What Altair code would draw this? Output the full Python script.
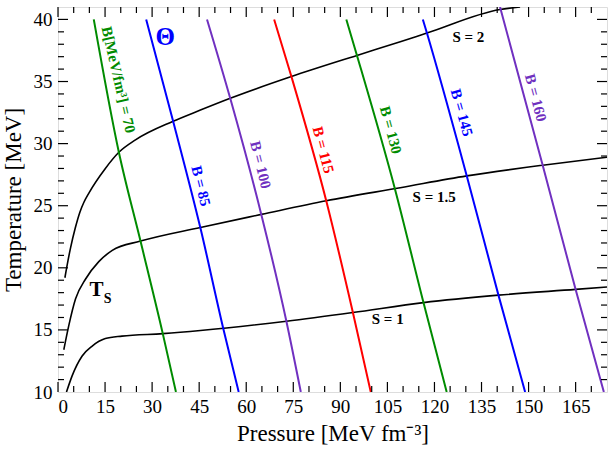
import altair as alt
import pandas as pd

# ---- isentropes (black curves) ----
s2_x = [2.2, 3.2, 4.0, 5.5, 7.0, 8.3, 9.8, 15.1, 19.4, 24.7, 36.7, 45.4, 54.9, 74.4, 95.3, 109.1, 117.6, 140.9, 147.3]
s2_y = [19.2, 20.6, 21.6, 23.2, 24.5, 25.3, 26.0, 28.0, 29.3, 30.3, 31.8, 32.7, 33.65, 35.4, 37.1, 38.2, 38.9, 40.8, 41.0]
s15_x = [1.85, 3.4, 5.6, 8.8, 13.0, 17.3, 26.3, 45.4, 64.8, 85.5, 109.1, 130.3, 154.5, 175.0]
s15_y = [13.4, 15.3, 17.5, 19.1, 20.5, 21.4, 22.15, 23.25, 24.3, 25.4, 26.45, 27.4, 28.26, 28.9]
s1_x = [2.7, 4.5, 7.7, 10.9, 15.1, 20.4, 33.4, 45.4, 72.8, 94.0, 116.5, 140.4, 165.0, 175.0]
s1_y = [10.0, 11.3, 12.9, 13.7, 14.3, 14.5, 14.7, 14.95, 15.7, 16.4, 17.2, 17.8, 18.26, 18.45]

# ---- constant-B lines ----
b70_x = [11.4, 19.4, 26.3, 33.4, 37.6]
b70_y = [40.0, 29.3, 22.15, 14.7, 10.0]
b85_x = [28.1, 36.7, 45.4, 52.6, 57.6]
b85_y = [40.0, 31.8, 23.2, 15.2, 10.0]
b100_x = [47.5, 54.9, 64.8, 72.8, 77.4]
b100_y = [40.0, 33.65, 24.3, 15.7, 10.0]
b115_x = [68.9, 74.4, 85.5, 94.0, 99.7]
b115_y = [40.0, 35.4, 25.4, 16.4, 10.0]
b130_x = [91.9, 95.3, 107.3, 116.5, 123.9]
b130_y = [40.0, 37.1, 26.45, 17.2, 10.0]
b145_x = [116.3, 117.6, 130.3, 140.4, 148.9]
b145_y = [40.0, 38.9, 27.4, 17.8, 10.0]
b160_x = [140.9, 154.5, 165.0, 174.0]
b160_y = [41.0, 28.26, 18.26, 10.0]

b_names = ["70", "85", "100", "115", "130", "145", "160"]
b_colors = ["#008b00", "#0000ff", "#7030c0", "#ff0000", "#008b00", "#0000ff", "#7030c0"]

# ---- annotation texts ----
lab_text = ["B[MeV/fm³] = 70", "B = 85", "B = 100", "B = 115", "B = 130", "B = 145", "B = 160"]
lab_x = [19.3, 45.6, 64.6, 84.6, 106.1, 128.7, 152.3]
lab_y = [35.15, 26.6, 28.3, 29.5, 31.1, 32.5, 33.7]
lab_angle = [77, 76, 76, 75.5, 75, 74.5, 75]

s_text = ["S = 2", "S = 1.5", "S = 1"]
s_lx = [130.8, 119.9, 105.1]
s_ly = [38.6, 25.7, 15.9]

x_major = [0, 15, 30, 45, 60, 75, 90, 105, 120, 135, 150, 165]
x_minor = [v for v in range(5, 175, 5) if v % 15 != 0]
y_major = [15, 20, 25, 30, 35, 40]
y_minor = [v for v in range(11, 41) if v % 5 != 0]

W, H = 549, 385
XDOM, YDOM = [0, 175], [10, 41]
FONT = "Liberation Serif"

xs = alt.Scale(domain=XDOM, nice=False, zero=False)
ys = alt.Scale(domain=YDOM, nice=False, zero=False)

rows = []
for name, xx, yy in [("2", s2_x, s2_y), ("1.5", s15_x, s15_y), ("1", s1_x, s1_y)]:
    for i, (a, b) in enumerate(zip(xx, yy)):
        rows.append({"s": name, "x": a, "y": b, "o": i})
s_df = pd.DataFrame(rows)

rows = []
for name, xx, yy in zip(b_names, [b70_x, b85_x, b100_x, b115_x, b130_x, b145_x, b160_x],
                        [b70_y, b85_y, b100_y, b115_y, b130_y, b145_y, b160_y]):
    for i, (a, b) in enumerate(zip(xx, yy)):
        rows.append({"B": name, "x": a, "y": b, "o": i})
b_df = pd.DataFrame(rows)

xaxis = alt.Axis(values=x_major, ticks=False, domain=False, grid=False, labelFont=FONT,
                 labelFontSize=19, labelColor="black", labelPadding=5,
                 title="Pressure [MeV fm⁻³]", titleFont=FONT, titleFontSize=23,
                 titleFontWeight="normal", titleColor="black", titlePadding=6)
yaxis = alt.Axis(values=[10] + y_major, ticks=False, domain=False, grid=False, labelFont=FONT,
                 labelFontSize=19, labelColor="black", labelPadding=6,
                 title="Temperature [MeV]", titleFont=FONT, titleFontSize=23,
                 titleFontWeight="normal", titleColor="black", titlePadding=8)

s_lines = alt.Chart(s_df).mark_line(color="black", strokeWidth=1.6, interpolate="monotone", clip=True).encode(
    x=alt.X("x:Q", scale=xs, axis=xaxis),
    y=alt.Y("y:Q", scale=ys, axis=yaxis),
    detail="s:N",
    order="o:Q",
)

b_lines = alt.Chart(b_df).mark_line(strokeWidth=2, interpolate="monotone", clip=True).encode(
    x=alt.X("x:Q", scale=xs),
    y=alt.Y("y:Q", scale=ys),
    color=alt.Color("B:N", scale=alt.Scale(domain=b_names, range=b_colors), legend=None),
    detail="B:N",
    order="o:Q",
)

lab_df = pd.DataFrame({"t": lab_text, "x": lab_x, "y": lab_y, "a": lab_angle, "c": b_colors})
b_labels = alt.Chart(lab_df).mark_text(font=FONT, fontSize=15, fontWeight="bold",
                                       align="center", baseline="middle").encode(
    x=alt.X("x:Q", scale=xs), y=alt.Y("y:Q", scale=ys),
    text="t:N", angle=alt.Angle("a:Q", scale=None), color=alt.Color("c:N", scale=None),
)

s_lab_df = pd.DataFrame({"t": s_text, "x": s_lx, "y": s_ly})
s_labels = alt.Chart(s_lab_df).mark_text(font=FONT, fontSize=15, fontWeight="bold", color="black",
                                         align="center", baseline="middle").encode(
    x=alt.X("x:Q", scale=xs), y=alt.Y("y:Q", scale=ys), text="t:N")

misc_df = pd.DataFrame({"t": ["Θ", "T", "S"], "x": [34.2, 12.3, 15.8], "y": [38.6, 18.2, 17.45],
                        "c": ["#0000ff", "black", "black"], "f": [25, 21, 14]})
misc = alt.Chart(misc_df).mark_text(font=FONT, fontWeight="bold", align="center", baseline="middle").encode(
    x=alt.X("x:Q", scale=xs), y=alt.Y("y:Q", scale=ys), text="t:N",
    color=alt.Color("c:N", scale=None), size=alt.Size("f:Q", scale=None),
)


def xticks(vals, length):
    d = pd.DataFrame({"v": vals})
    bot = alt.Chart(d).mark_rule(color="black", strokeWidth=1.2).encode(
        x=alt.X("v:Q", scale=xs), y=alt.value(H), y2=alt.value(H - length))
    top = alt.Chart(d).mark_rule(color="black", strokeWidth=1.2).encode(
        x=alt.X("v:Q", scale=xs), y=alt.value(0), y2=alt.value(length))
    return [bot, top]


def yticks(vals, length):
    d = pd.DataFrame({"v": vals})
    left = alt.Chart(d).mark_rule(color="black", strokeWidth=1.2).encode(
        y=alt.Y("v:Q", scale=ys), x=alt.value(0), x2=alt.value(length))
    right = alt.Chart(d).mark_rule(color="black", strokeWidth=1.2).encode(
        y=alt.Y("v:Q", scale=ys), x=alt.value(W), x2=alt.value(W - length))
    return [left, right]


ticks = xticks(x_major, 10) + xticks(x_minor, 6) + yticks(y_major, 10) + yticks(y_minor, 6)

chart = alt.layer(s_lines, b_lines, b_labels, s_labels, misc, *ticks).properties(
    width=W, height=H,
    autosize=alt.AutoSizeParams(type="none"),
    padding={"left": 58, "top": 7, "right": 1, "bottom": 58},
).configure_view(stroke="black", strokeWidth=1.6).configure(background="white")

chart.save("out.html", embed_options={"renderer": "svg", "actions": False})
